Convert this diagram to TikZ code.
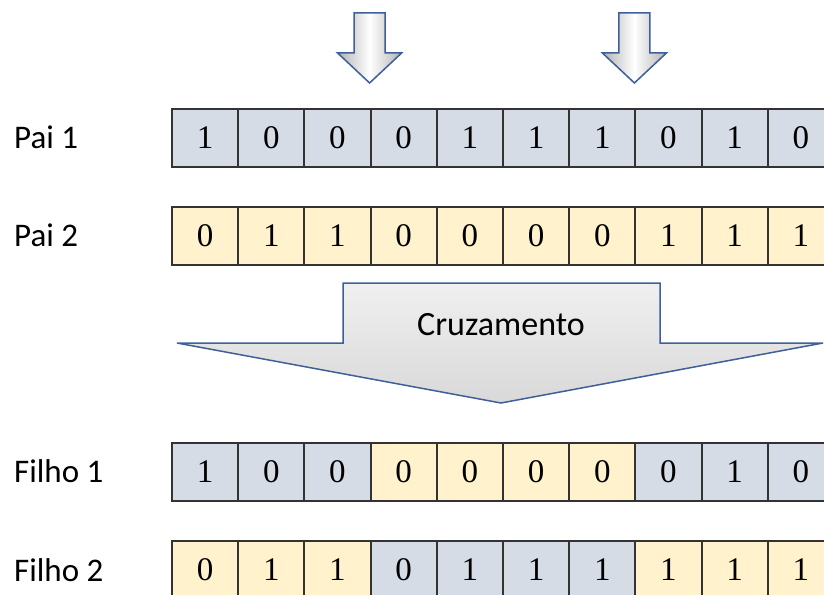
\documentclass[tikz,border=0pt]{standalone}
\usepackage{fontspec}
\setmainfont{Liberation Serif}
\newfontfamily\labelfont{Carlito}
\definecolor{cellblue}{HTML}{D6DCE5}
\definecolor{cellyellow}{HTML}{FFF2CC}
\definecolor{cellline}{HTML}{333333}
\definecolor{arrowline}{HTML}{3E5F9A}
\definecolor{arrowfill}{HTML}{DCDCDC}
\tikzset{
  cellbox/.style={draw=cellline, line width=1.9pt, inner sep=0pt,
    minimum width=66.2pt, minimum height=58pt, anchor=north west,
    font=\fontsize{33}{38}\selectfont},
  bluecell/.style={cellbox, fill=cellblue},
  yellowcell/.style={cellbox, fill=cellyellow},
  rowlabel/.style={anchor=base west, inner sep=0pt, font=\labelfont\fontsize{33}{40}\selectfont},
  smallarrow/.style={draw=arrowline, line width=1.5pt, line join=miter,
    left color=gray!60, right color=gray!60, middle color=white},
  bigarrow/.style={draw=arrowline, line width=1.5pt, line join=miter,
    top color=gray!12, bottom color=gray!30}
}
\begin{document}
\begin{tikzpicture}[x=1pt,y=-1pt]
\useasboundingbox (0,0) rectangle (824,594);
\clip (0,0) rectangle (824,594);
% small arrows
\foreach \cx/\nm in {369.6/sa1, 634.4/sa2}{
  \draw[smallarrow] (\cx-15.5,13) -- (\cx+15.5,13) -- (\cx+15.5,53) -- (\cx+32,53)
    -- (\cx,83) -- (\cx-32,53) -- (\cx-15.5,53) -- cycle;
}
% rows
\def\cw{66.2}
\foreach \v [count=\i from 0] in {1,0,0,0,1,1,1,0,1,0}{
  \node[bluecell] (p1c\i) at ({171+\i*\cw},108) {\raisebox{-2.5pt}{\v}};
}
\foreach \v [count=\i from 0] in {0,1,1,0,0,0,0,1,1,1}{
  \node[yellowcell] (p2c\i) at ({171+\i*\cw},206) {\raisebox{-2.5pt}{\v}};
}
\foreach \v/\s [count=\i from 0] in {1/bluecell,0/bluecell,0/bluecell,0/yellowcell,0/yellowcell,0/yellowcell,0/yellowcell,0/bluecell,1/bluecell,0/bluecell}{
  \node[\s] (f1c\i) at ({171+\i*\cw},442) {\raisebox{-2.5pt}{\v}};
}
\foreach \v/\s [count=\i from 0] in {0/yellowcell,1/yellowcell,1/yellowcell,0/bluecell,1/bluecell,1/bluecell,1/bluecell,1/yellowcell,1/yellowcell,1/yellowcell}{
  \node[\s] (f2c\i) at ({171+\i*\cw},540) {\raisebox{-2.5pt}{\v}};
}
% labels
\node[rowlabel] (lp1) at (14,148) {Pai 1};
\node[rowlabel] (lp2) at (14,246) {Pai 2};
\node[rowlabel] (lf1) at (14,482) {Filho 1};
\node[rowlabel] (lf2) at (14,581) {Filho 2};
% big arrow
\draw[bigarrow] (343,283) -- (660,283) -- (660,343) -- (823,343) -- (501,403)
  -- (177,343) -- (343,343) -- cycle;
\node[anchor=base, inner sep=0pt, font=\labelfont\fontsize{34}{40}\selectfont] (cruz) at (501,335) {Cruzamento};
\end{tikzpicture}
\end{document}
